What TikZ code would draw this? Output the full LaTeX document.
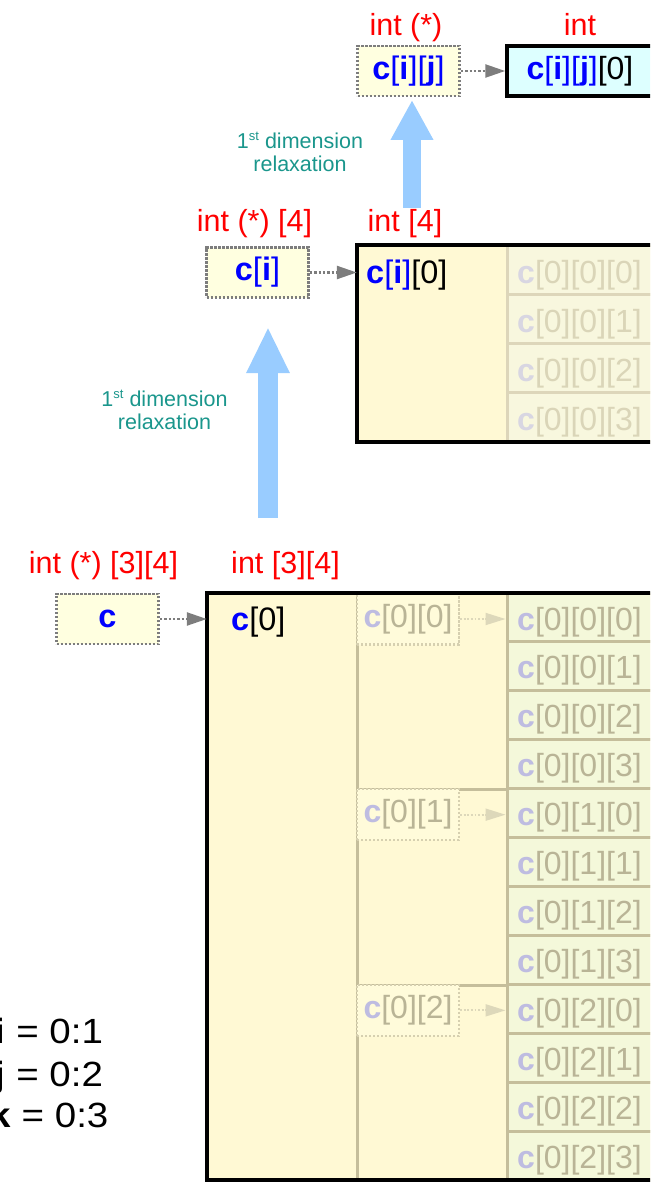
\documentclass[tikz,border=0pt]{standalone}
\usepackage{fontspec}
\setmainfont{Liberation Sans}
\usetikzlibrary{arrows.meta}
\definecolor{lred}{RGB}{255,0,0}
\definecolor{lblue}{RGB}{0,0,255}
\definecolor{tealtxt}{RGB}{26,150,140}
\definecolor{arrblue}{RGB}{153,204,255}
\definecolor{ptrfill}{RGB}{255,255,224}
\definecolor{ptrline}{RGB}{125,125,125}
\definecolor{boxfill}{RGB}{255,249,212}
\definecolor{cyanfill}{RGB}{221,255,255}
\definecolor{cellfill}{RGB}{244,248,218}
\definecolor{cellline}{RGB}{197,190,155}
\definecolor{fadec}{RGB}{190,188,225}
\definecolor{fadebr}{RGB}{185,180,150}
\definecolor{cellfillB}{RGB}{248,247,222}
\definecolor{celllineB}{RGB}{221,214,186}
\definecolor{fadecB}{RGB}{216,214,226}
\definecolor{fadebrB}{RGB}{218,213,184}
\definecolor{fptrline}{RGB}{214,208,176}
\definecolor{fptrfill}{RGB}{255,251,218}
\definecolor{farrow}{RGB}{221,216,186}
\newcommand\bc{\textcolor{lblue}{\textbf{c}}}
\newcommand\bidx[1]{\textcolor{lblue}{[\textbf{#1}]}}
\newcommand\wid[1]{\scalebox{1.1}[1]{#1}}
\tikzset{
  lbl/.style={text=lred, font=\fontsize{30.5}{36}\selectfont, anchor=base, inner sep=0pt},
  note/.style={text=tealtxt, font=\fontsize{21.5}{24}\selectfont, anchor=base, inner sep=0pt},
  idx/.style={text=black, font=\fontsize{35}{40}\selectfont, anchor=base, inner sep=0pt},
  ptrbox/.style={draw=ptrline, fill=ptrfill, line width=2.4pt, dash pattern=on 2.4pt off 1.6pt,
    minimum width=102pt, minimum height=50pt, inner sep=0pt, font=\fontsize{32.5}{38}\selectfont},
  fptrbox/.style={draw=fptrline, fill=fptrfill, line width=2.2pt, dash pattern=on 2.2pt off 1.8pt,
    minimum width=102pt, minimum height=51pt, inner sep=0pt, text=fadebr, font=\fontsize{32}{38}\selectfont},
  ptrarrow/.style={draw=ptrline, line width=2.4pt, dash pattern=on 2.4pt off 2pt,
    -{Triangle[length=20pt,width=13pt]}},
  fptrarrow/.style={draw=farrow, line width=1.8pt, dash pattern=on 1.8pt off 1.8pt,
    -{Triangle[length=20pt,width=12pt]}},
  bigfill/.style={fill=boxfill, draw=none, inner sep=0pt},
  bigborder/.style={draw=black, line width=3.5pt},
  cellA/.style={draw=cellline, fill=cellfill, line width=3pt, minimum width=293pt, minimum height=48.917pt, inner sep=0pt},
  cellB/.style={draw=celllineB, fill=cellfillB, line width=3pt, minimum width=293pt, minimum height=49.25pt, inner sep=0pt},
  celltxt/.style={anchor=base west, inner sep=0pt, font=\fontsize{32}{38}\selectfont},
  blk/.style={anchor=base west, inner sep=0pt, font=\fontsize{32.5}{38}\selectfont},
  fatarrow/.style={draw=arrblue, line cap=butt},
}
\begin{document}
\begin{tikzpicture}[x=1pt,y=-1pt]
\useasboundingbox (0,0) rectangle (650,1182);
\clip (0,0) rectangle (650,1182);

% ---------- top level ----------
\node[lbl] (lt1) at (406,36) {int (*)};
\node[lbl] (lt2) at (580,36) {int};
\node[ptrbox] (ptrTop) at (408.5,71) {\bc\bidx{i}\bidx{j}};
\node[draw=black, line width=3.5pt, fill=cyanfill, minimum width=146pt, minimum height=50pt,
  inner sep=0pt, font=\fontsize{32}{38}\selectfont] (arrTop) at (580,71) {\bc\bidx{i}\bidx{j}[0]};
\draw[ptrarrow] (ptrTop.east) -- (arrTop.west);

\node[note] (n1a) at (300,149) {1\raisebox{8pt}{\fontsize{13}{13}\selectfont st} dimension};
\node[note] (n1b) at (300,172) {relaxation};
\coordinate (ba2s) at (412,208);
\coordinate (ba2e) at (412,100);
\draw[fatarrow, line width=17.5pt, -{Triangle[length=40pt,width=40pt]}] (ba2s) -- (ba2e);

% ---------- middle level ----------
\node[lbl] (lm1) at (254.5,232) {int (*) [4]};
\node[lbl] (lm2) at (405,232) {int [4]};
\node[ptrbox] (ptrMid) at (257.5,272.5) {\bc\bidx{i}};
\node[bigfill, minimum width=443pt, minimum height=197pt] (midbox) at (578.5,343.5) {};
\foreach \k in {0,1,2,3}{
  \pgfmathsetmacro\ctop{245+\k*49.25}
  \node[cellB] (cm\k) at (653.5,\ctop+24.625) {};
  \node[celltxt, text=fadebrB] (tm\k) at (517,\ctop+38) {\textcolor{fadecB}{\textbf{c}}[0][0][\k]};
}
\draw[bigborder] (midbox.north west) rectangle (midbox.south east);
\node[blk] (cim0) at (366,283) {\bc\bidx{i}[0]};
\draw[ptrarrow] (ptrMid.east) -- (ptrMid.east -| midbox.west);

\node[note] (n2a) at (164.5,406) {1\raisebox{8pt}{\fontsize{13}{13}\selectfont st} dimension};
\node[note] (n2b) at (164.5,429) {relaxation};
\coordinate (ba1s) at (268,518);
\coordinate (ba1e) at (268,327);
\draw[fatarrow, line width=20pt, -{Triangle[length=46pt,width=40pt]}] (ba1s) -- (ba1e);

% ---------- bottom level ----------
\node[lbl] (lb1) at (103.5,573) {int (*) [3][4]};
\node[lbl] (lb2) at (285.5,573) {int [3][4]};
\node[ptrbox] (ptrBot) at (107.5,619) {\bc};
\node[bigfill, minimum width=593pt, minimum height=587pt] (botbox) at (503.5,886.5) {};
\foreach \g in {0,1,2}{
  \foreach \k in {0,1,2,3}{
    \pgfmathsetmacro\ctop{593+(4*\g+\k)*48.917}
    \node[cellA] (cb\g\k) at (653.5,\ctop+24.4585) {};
    \node[celltxt, text=fadebr] (tb\g\k) at (517,\ctop+37) {\textcolor{fadec}{\textbf{c}}[0][\g][\k]};
  }
}
\draw[draw=cellline, line width=3pt] (357,593) -- (357,1180);
\draw[draw=cellline, line width=3pt] (357,789.67) -- (507,789.67);
\draw[draw=cellline, line width=3pt] (357,985.33) -- (507,985.33);
\foreach \g in {0,1,2}{
  \pgfmathsetmacro\gtop{593+\g*195.67}
  \node[fptrbox] (fp\g) at (408,\gtop+26) {\textcolor{fadec}{\textbf{c}}[0][\g]};
  \draw[fptrarrow] (fp\g.east) -- (fp\g.east -| cb\g0.west);
}
\draw[bigborder] (botbox.north west) rectangle (botbox.south east);
\node[blk] (c0) at (231,630) {\bc[0]};
\draw[ptrarrow] (ptrBot.east) -- (ptrBot.east -| botbox.west);

% ---------- index ranges ----------
\node[idx] (ri) at (49,1043) {\wid{\textbf{i} = 0:1}};
\node[idx] (rj) at (49,1086) {\wid{\textbf{j} = 0:2}};
\node[idx] (rk) at (49,1127) {\wid{\textbf{k} = 0:3}};
\end{tikzpicture}
\end{document}
